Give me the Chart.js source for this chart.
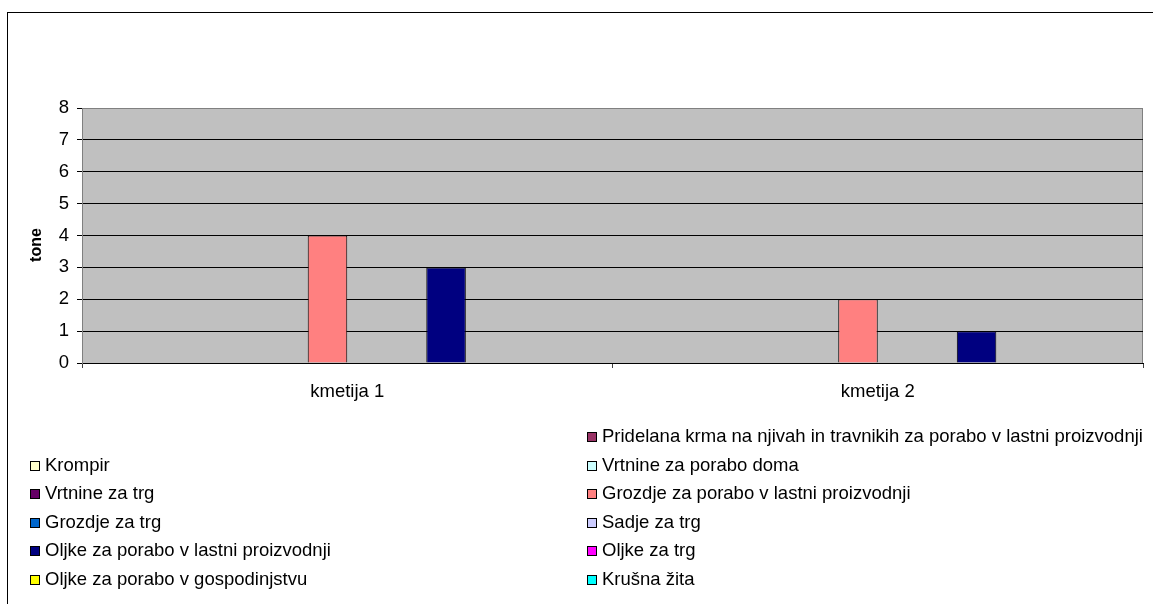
<!DOCTYPE html>
<html><head><meta charset="utf-8">
<script src="https://cdn.jsdelivr.net/npm/chart.js@4"></script>
<style>
html,body{margin:0;padding:0;width:1153px;height:604px;overflow:hidden;background:#fff;font-family:"Liberation Sans",Arial,sans-serif;}
#frame{position:absolute;left:7px;top:12px;width:1200px;height:700px;border:1px solid #000;box-sizing:border-box;}
#wrap{position:absolute;left:0;top:0;width:1153px;height:604px;}
#legend{position:absolute;left:0;top:0;width:1153px;height:604px;pointer-events:none;}
.item{position:absolute;font-size:18.5px;line-height:20px;height:20px;color:#000;white-space:nowrap;}
.sw{display:inline-block;width:8px;height:8px;border:1px solid #000;margin-right:5px;vertical-align:0px;}
</style>
</head><body>
<div id="frame"></div>
<div id="wrap"><canvas id="c" width="1153" height="604"></canvas></div>
<div id="legend"></div>
<script>
// ---- data ----
const categories = ['kmetija 1', 'kmetija 2'];
const yTicks = [0, 1, 2, 3, 4, 5, 6, 7, 8];
const axisTitle = 'tone';
const seriesNames = [
  '',
  'Pridelana krma na njivah in travnikih za porabo v lastni proizvodnji',
  'Krompir',
  'Vrtnine za porabo doma',
  'Vrtnine za trg',
  'Grozdje za porabo v lastni proizvodnji',
  'Grozdje za trg',
  'Sadje za trg',
  'Oljke za porabo v lastni proizvodnji',
  'Oljke za trg',
  'Oljke za porabo v gospodinjstvu',
  'Krušna žita'
];
const unnamed = [0, 0];
const pridelanaKrma = [0, 0];
const krompir = [0, 0];
const vrtnineDoma = [0, 0];
const vrtnineTrg = [0, 0];
const grozdjeLastni = [4, 2];
const grozdjeTrg = [0, 0];
const sadjeTrg = [0, 0];
const oljkeLastni = [3, 1];
const oljkeTrg = [0, 0];
const oljkeGospodinjstvo = [0, 0];
const krusnaZita = [0, 0];
const seriesValues = [unnamed, pridelanaKrma, krompir, vrtnineDoma, vrtnineTrg, grozdjeLastni,
  grozdjeTrg, sadjeTrg, oljkeLastni, oljkeTrg, oljkeGospodinjstvo, krusnaZita];

// ---- styles ----
const seriesColors = ['#9999FF','#993366','#FFFFCC','#CCFFFF','#660066','#FF8080',
  '#0066CC','#CCCCFF','#000080','#FF00FF','#FFFF00','#00FFFF'];
const FONT = '"Liberation Sans", Arial, sans-serif';
const PLOT = {left: 82, top: 108, right: 1143, bottom: 363};
const LEFT_PAD = 20;

const plotBg = {
  id: 'plotBg',
  beforeDraw(chart) {
    const {ctx, chartArea: a} = chart;
    ctx.save();
    ctx.fillStyle = '#C0C0C0';
    ctx.fillRect(a.left, a.top, a.right - a.left, a.bottom - a.top);
    ctx.strokeStyle = '#808080';
    ctx.lineWidth = 1;
    ctx.strokeRect(Math.round(a.left) + 0.5, Math.round(a.top) + 0.5, Math.round(a.right - a.left) - 1, Math.round(a.bottom - a.top));
    ctx.restore();
  },
  afterDraw(chart) {
    // y-axis title, placed as in the original (slightly below centre)
    const {ctx} = chart;
    ctx.save();
    ctx.translate(37, 245);
    ctx.rotate(-Math.PI / 2);
    ctx.font = 'bold 16px ' + FONT;
    ctx.fillStyle = '#000';
    ctx.textAlign = 'center';
    ctx.textBaseline = 'middle';
    ctx.fillText(axisTitle, 0, 0);
    ctx.restore();
  }
};

new Chart(document.getElementById('c'), {
  type: 'bar',
  data: {
    labels: categories,
    datasets: seriesNames.map((n, i) => ({
      label: n,
      data: seriesValues[i],
      backgroundColor: seriesColors[i],
      borderColor: '#000',
      borderWidth: 1,
      categoryPercentage: 0.894,
      barPercentage: 1.0
    }))
  },
  options: {
    responsive: false,
    animation: false,
    events: [],
    layout: {padding: {left: LEFT_PAD, top: PLOT.top, right: 1153 - PLOT.right, bottom: 604 - PLOT.bottom - 45}},
    plugins: {legend: {display: false}, tooltip: {enabled: false}, title: {display: false}},
    scales: {
      x: {
        grid: {offset: true, drawOnChartArea: false, drawTicks: true, tickLength: 5, color: '#404040', tickColor: '#404040'},
        border: {display: true, color: '#000', width: 1},
        ticks: {font: {family: FONT, size: 18.5}, color: '#000', padding: 13, maxRotation: 0},
        afterFit(s) { s.height = 45; }
      },
      y: {
        min: 0, max: 8,
        afterBuildTicks(s) { s.ticks = yTicks.map(v => ({value: v})); },
        grid: {color: c => (c.tick && c.tick.value === 8) ? '#808080' : '#000', tickColor: '#000', tickLength: 5, drawTicks: true},
        border: {display: true, color: '#808080', width: 1},
        ticks: {font: {family: FONT, size: 18.5}, color: '#000', padding: 8},
        title: {display: false, text: axisTitle},
        afterFit(s) { s.width = PLOT.left - LEFT_PAD; }
      }
    }
  },
  plugins: [plotBg]
});

// ---- legend (two columns, row-wise like the original) ----
const legend = document.getElementById('legend');
const colX = [30, 587];
const row0 = 436, rowStep = 28.5;
seriesNames.forEach((n, i) => {
  if (!n) return;
  const r = Math.floor(i / 2), c = i % 2;
  const d = document.createElement('div');
  d.className = 'item';
  d.style.left = colX[c] + 'px';
  d.style.top = (row0 + r * rowStep - 10) + 'px';
  const sw = document.createElement('span');
  sw.className = 'sw';
  sw.style.background = seriesColors[i];
  d.appendChild(sw);
  d.appendChild(document.createTextNode(n));
  legend.appendChild(d);
});
</script>
</body></html>
